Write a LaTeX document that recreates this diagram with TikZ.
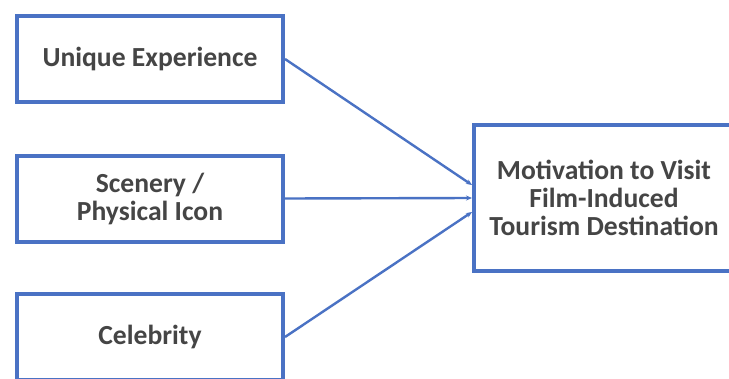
\documentclass[tikz,border=0pt]{standalone}
\usepackage{fontspec}
\setmainfont{Carlito}
\usetikzlibrary{arrows.meta}
\definecolor{boxblue}{HTML}{4A72C4}
\definecolor{txt}{HTML}{454545}
\begin{document}
\begin{tikzpicture}[x=1pt,y=-1pt,
  box/.style={draw=boxblue, line width=4pt, fill=white, minimum width=266pt, minimum height=86pt,
    align=center, text=txt, font=\bfseries\fontsize{27.6}{28}\selectfont, inner sep=0pt},
  conn/.style={draw=boxblue, line width=2.4pt, -{Stealth[length=6pt,width=5pt,fill=boxblue!60!black]}}]
\fill[white] (0,0) rectangle (729,378);
\useasboundingbox (0,0) rectangle (729,378);
\clip (0,0) rectangle (729,378);
\node[box] (ue) at (150,59) {Unique Experience};
\node[box] (sc) at (150,198.5) {Scenery /\\Physical Icon};
\node[box] (ce) at (150,337) {Celebrity};
\node[box, minimum width=260pt, minimum height=146pt] (mo) at (604,198) {Motivation to Visit\\Film-Induced\\Tourism Destination};
\draw[conn] (ue.east) -- ([yshift=13pt]mo.west);
\draw[conn] (sc.east) -- (mo.west);
\draw[conn] (ce.east) -- ([yshift=-14pt]mo.west);
\end{tikzpicture}
\end{document}
